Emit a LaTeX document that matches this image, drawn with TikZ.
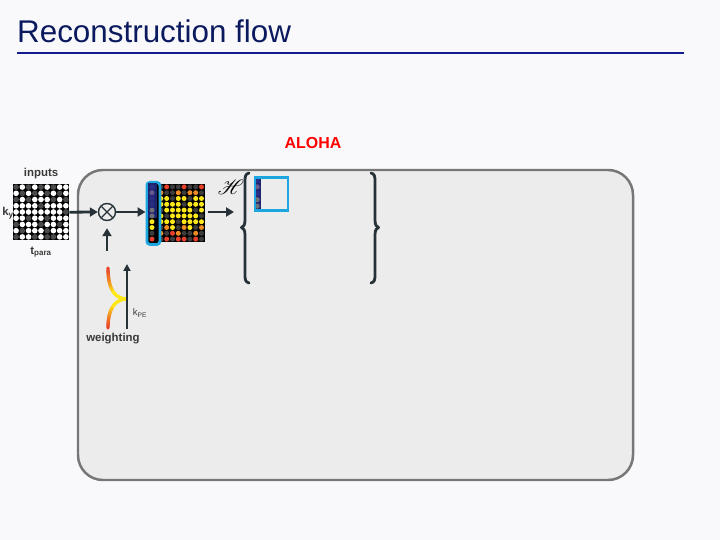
\documentclass[tikz,border=0pt]{standalone}
\usepackage{fontspec}
\setmainfont{Liberation Sans}
\usepackage{mathrsfs}
\usetikzlibrary{arrows.meta,calc}

\definecolor{bg}{HTML}{F9F9FB}
\definecolor{titleblue}{HTML}{0B1A5E}
\definecolor{rulec}{HTML}{131C8C}
\definecolor{boxfill}{HTML}{ECECEC}
\definecolor{boxline}{HTML}{777777}
\definecolor{ink}{HTML}{263238}
\definecolor{lab}{HTML}{3A3A3A}
\definecolor{hl}{HTML}{1BA6E0}
\definecolor{cw}{HTML}{FFFFFF}
\definecolor{cd}{HTML}{4A4A4A}
\definecolor{ck}{HTML}{3C3C3C}
\definecolor{cr}{HTML}{E8402A}
\definecolor{co}{HTML}{F08A22}
\definecolor{cy}{HTML}{FFE81A}
\definecolor{cn}{HTML}{2A2F86}
\definecolor{cp}{HTML}{6A5A8A}
\definecolor{cg}{HTML}{6E6E78}
\definecolor{navybg}{HTML}{1E2470}

\tikzset{
  arr/.style={ink, line width=2.8pt, -{Triangle[length=8pt,width=9pt]}},
  lbl/.style={text=lab, font=\bfseries\fontsize{11.5}{13}\selectfont, inner sep=0pt},
  bracestyle/.style={ink, line width=2.8pt, line cap=round, line join=round},
  declare function={
    bxw(\t)=(1-\t)^3*108+3*(1-\t)^2*\t*108+3*(1-\t)*\t^2*114+\t^3*126;
    byt(\t)=(1-\t)^3*268+3*(1-\t)^2*\t*288+3*(1-\t)*\t^2*298+\t^3*299;
    byb(\t)=(1-\t)^3*328+3*(1-\t)^2*\t*310+3*(1-\t)*\t^2*300+\t^3*299;
  }
}

\begin{document}
\begin{tikzpicture}[x=1bp,y=-1bp]
\useasboundingbox (0,0) rectangle (720,540);
\fill[bg] (0,0) rectangle (720,540);

% title
\node[anchor=base west, inner sep=0pt, font=\fontsize{31.5}{38}\selectfont, text=titleblue] (title) at (17,43) {Reconstruction flow};
\coordinate (ruleA) at (17,53);
\coordinate (ruleB) at (684,53);
\draw[rulec, line width=2.2pt] (ruleA) -- (ruleB);

% main box
\draw[boxline, fill=boxfill, line width=2.5pt, rounded corners=25pt] (78,170) rectangle (633,480);
\node[text=red, font=\bfseries\fontsize{16}{19}\selectfont] (aloha) at (313,143) {ALOHA};

% input grid
\node[fill=black, minimum width=56bp, minimum height=56bp, inner sep=0pt, anchor=north west] (inp) at (13,184) {};
\foreach \row [count=\r from 0] in {
  {cd,cw,cd,cw,cd,cw,cd,cw,cw},
  {cw,cd,cw,cd,cw,cd,cw,cd,cw},
  {cd,cw,cd,cw,cw,cw,cd,cw,cd},
  {cw,cw,cw,cw,cd,cw,cw,cw,cw},
  {cw,cw,cw,cw,cw,cw,cw,cw,cd},
  {cw,cw,cd,cw,cw,cd,cw,cw,cw},
  {cd,cw,cw,cw,cd,cw,cw,cd,cw},
  {cw,cd,cw,cw,cw,cd,cw,cw,cw},
  {cd,cw,cw,cd,cw,cd,cd,cw,cw}}{
  \foreach \col [count=\c from 0] in \row {
    \fill[\col] ({13+6.222*(\c+0.5)},{184+6.222*(\r+0.5)}) circle[radius=2.8];
  }
}
\node[lbl] (inputs) at (41,174) {inputs};
\node[lbl] (ky) at (8,213) {k\textsubscript{y}};
\node[lbl] (tpara) at (41,252) {t\textsubscript{para}};

% multiply
\node[circle, draw=ink, line width=1.4pt, minimum size=17bp, inner sep=0pt,
      path picture={\draw[ink, line width=1.3pt]
        ($(path picture bounding box.south west)!0.18!(path picture bounding box.north east)$) --
        ($(path picture bounding box.south west)!0.82!(path picture bounding box.north east)$)
        ($(path picture bounding box.north west)!0.18!(path picture bounding box.south east)$) --
        ($(path picture bounding box.north west)!0.82!(path picture bounding box.south east)$);}]
  (mul) at (107,212) {};
\draw[arr] (inp.east) -- (mul.west);
\coordinate (mulin) at (107,251);
\draw[arr, shorten >=7pt] (mulin) -- (mul.south);

% colour grid
\node[fill=black, minimum width=46.4bp, minimum height=58bp, inner sep=0pt, anchor=north west] (cgrid) at (158,184) {};
\foreach \row [count=\r from 0] in {
  {ck,cr,ck,ck,cr,ck,ck,cr},
  {co,ck,ck,co,ck,co,co,ck},
  {cy,cy,ck,cy,cy,ck,cy,cy},
  {cy,cy,cy,cy,ck,cy,cy,cy},
  {ck,cy,cy,cy,cy,cy,ck,cy},
  {cy,ck,cy,cy,cy,cy,cy,ck},
  {cy,cy,cy,ck,cy,cy,cy,cy},
  {ck,co,cy,ck,co,cy,ck,co},
  {co,ck,cr,co,ck,ck,co,ck},
  {ck,cr,ck,cr,cr,ck,cr,ck}}{
  \foreach \col [count=\c from 0] in \row {
    \fill[\col] ({158+5.8*(\c+0.5)},{184+5.8*(\r+0.5)}) circle[radius=2.5];
  }
}

% highlighted column
\node[draw=hl, fill=black, line width=2.8pt, rounded corners=3pt, minimum width=13bp, minimum height=62bp, inner sep=0pt, anchor=north west] (hcol) at (145.5,181) {};
\fill[navybg] (147.5,183) rectangle (156.5,218.5);
\foreach \col [count=\r from 0] in {cn,cp,cn,cn,cg,cg,cy,cy,ck,cr}{
  \fill[\col] (152,{184+5.8*(\r+0.5)}) circle[radius=2.5];
}
\draw[arr] (mul.east) -- (mul.east -| hcol.west);

% H operator
\node[inner sep=0pt, font=\fontsize{20}{24}\selectfont] (H) at (231,187) {$\mathscr{H}$};
\coordinate (brin) at (234,212);
\draw[arr, shorten <=3pt] (cgrid.east |- brin) -- (brin);

% braces
\draw[bracestyle] (249,173) .. controls (245.5,174) and (245,176) .. (245,181) -- (245,220)
  .. controls (245,225) and (243.5,227) .. (241.5,227.5)
  .. controls (243.5,228) and (245,230) .. (245,235) -- (245,275)
  .. controls (245,280) and (245.5,282) .. (249,283);
\draw[bracestyle] (371,173) .. controls (374.5,174) and (375,176) .. (375,181) -- (375,220)
  .. controls (375,225) and (376.5,227) .. (378.5,227.5)
  .. controls (376.5,228) and (375,230) .. (375,235) -- (375,275)
  .. controls (375,280) and (374.5,282) .. (371,283);

% small column in braces
\fill[navybg] (254,177) rectangle (260.5,209.5);
\foreach \col [count=\r from 0] in {cn,cp,cn,cg,cg}{
  \fill[\col] (257.2,{180.5+6.4*\r}) circle[radius=2.6];
}
\node[draw=hl, line width=2.2pt, minimum width=33bp, minimum height=33bp, inner sep=0pt, anchor=north west] (sq) at (253.5,176.5) {};

% weighting
\begin{scope}[line width=3.4pt, line cap=round]
\foreach \i in {0,...,19}{
  \pgfmathsetmacro\ta{\i/20}
  \pgfmathsetmacro\tb{(\i+1)/20}
  \pgfmathtruncatemacro\m{min(100,\i*9)}
  \draw[color=cy!\m!cr] plot[domain=\ta:\tb, samples=4, variable=\t] ({bxw(\t)},{byt(\t)});
  \draw[color=cy!\m!cr] plot[domain=\ta:\tb, samples=4, variable=\t] ({bxw(\t)},{byb(\t)});
}
\end{scope}
\coordinate (kpeA) at (127,329);
\coordinate (kpeB) at (127,264);
\draw[arr, line width=2pt, -{Triangle[length=7pt,width=7pt]}] (kpeA) -- (kpeB);
\node[text=lab, font=\fontsize{9.5}{11}\selectfont, inner sep=0pt] (kpe) at (140,313) {k\textsubscript{PE}};
\node[lbl] (weighting) at (113,339) {weighting};
\end{tikzpicture}
\end{document}
